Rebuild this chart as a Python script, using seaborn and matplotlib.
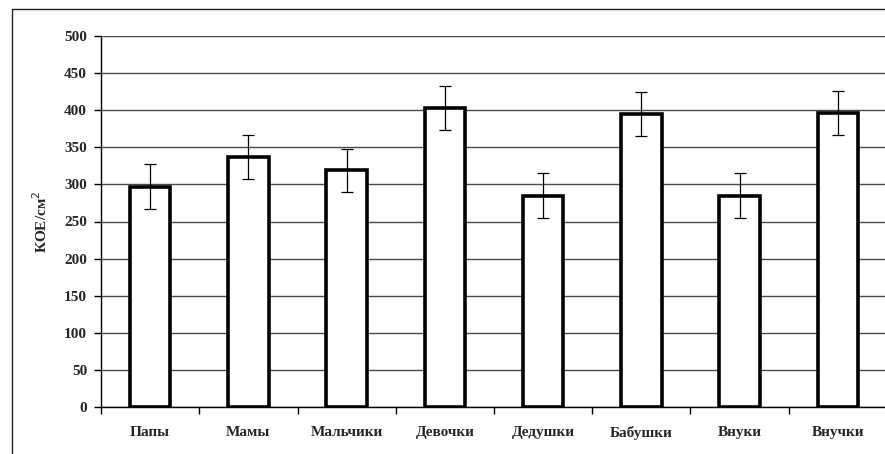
import matplotlib
matplotlib.use("Agg")
import matplotlib.pyplot as plt
import seaborn as sns
import pandas as pd
from matplotlib.lines import Line2D
from matplotlib.ticker import FixedLocator, NullFormatter

# Groups and colony counts (КОЕ/см²) with their error half-widths
groups = ["Папы", "Мамы", "Мальчики", "Девочки", "Дедушки", "Бабушки", "Внуки", "Внучки"]
means = [297, 337, 319, 403, 285, 395, 285, 396]
errors = [30, 30, 29, 30, 30, 30, 30, 30]
y_ticks = [0, 50, 100, 150, 200, 250, 300, 350, 400, 450, 500]

df = pd.DataFrame({"group": groups, "value": means})

sns.set_theme(style="white")
plt.rcParams["font.family"] = ["Liberation Serif", "DejaVu Serif"]

fig = plt.figure(figsize=(8.85, 4.54), dpi=100)
ax = fig.add_axes([101 / 885, 47 / 454, 786 / 885, 371 / 454])

sns.barplot(data=df, x="group", y="value", ax=ax, color="white",
            edgecolor="black", linewidth=2.6, width=0.41, errorbar=None,
            zorder=3)
ax.errorbar(range(len(groups)), means, yerr=errors, fmt="none",
            ecolor="black", elinewidth=0.9, capsize=4, capthick=0.9, zorder=4)

ax.set_xlim(-0.5, len(groups) - 0.5)
ax.set_ylim(0, 500)
ax.set_yticks(y_ticks)
ax.set_yticklabels([str(t) for t in y_ticks], fontsize=11, fontweight="bold")
ax.yaxis.grid(True, color="#4a4a4a", linewidth=1.0, zorder=0)
ax.set_axisbelow(True)

# category labels centred, tick marks on category boundaries
ax.set_xticks(range(len(groups)))
ax.set_xticklabels(groups, fontsize=11, fontweight="bold")
ax.tick_params(axis="x", which="major", length=0, pad=14)
ax.xaxis.set_minor_locator(FixedLocator([i - 0.5 for i in range(len(groups) + 1)]))
ax.xaxis.set_minor_formatter(NullFormatter())
ax.tick_params(axis="x", which="minor", bottom=True, length=5, width=1, color="black",
               direction="out")
ax.tick_params(axis="y", left=True, length=5, width=1, color="black",
               direction="out", pad=5)

for side in ("top", "right"):
    ax.spines[side].set_visible(False)
for side in ("left", "bottom"):
    ax.spines[side].set_color("black")
    ax.spines[side].set_linewidth(1.0)

ax.set_xlabel("")
ax.set_ylabel("КОЕ/см$^2$", fontsize=11, fontweight="bold", labelpad=10)

# outer chart frame
fig.add_artist(Line2D([12 / 885, 12 / 885, 1.0], [0.0, 1 - 9 / 454, 1 - 9 / 454],
                      transform=fig.transFigure, color="#222222", linewidth=1.0))

fig.savefig("out.png", dpi=100)
